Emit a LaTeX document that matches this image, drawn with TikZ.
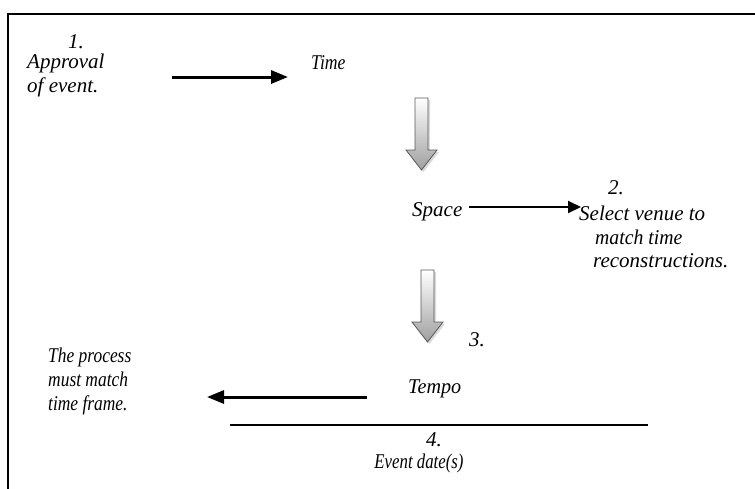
\documentclass[tikz,border=0pt]{standalone}
\usepackage{fontspec}
\setmainfont{Liberation Serif}
\usetikzlibrary{arrows.meta,shadows}
\tikzset{
  lbl/.style={font=\fontsize{21}{24}\selectfont\itshape, inner sep=0pt, align=left},
  narrow/.style={font=\fontsize{21}{24}\selectfont\itshape\addfontfeature{FakeStretch=#1}},
  flowarrow/.style={line width=3pt, -{Triangle[length=17pt,width=13pt]}},
  thinarrow/.style={line width=2pt, -{Triangle[length=13pt,width=12pt]}},
  blockarrow/.style={draw=gray!70!black, line width=0.8pt, top color=white, bottom color=gray!75,
    drop shadow={shadow xshift=2pt, shadow yshift=-2pt, fill=gray!35, opacity=0.8}},
}
\begin{document}
\begin{tikzpicture}[x=1pt,y=-1pt]
\useasboundingbox (0,0) rectangle (755,488);
% outer frame (only the top and left edges fall inside the page)
\draw[line width=2pt] (770,14) -- (8,14) -- (8,500);

% step 1
\node[lbl] (n1) at (76,42) {1.};
\node[lbl, anchor=west] (approval) at (27,75) {Approval\\of event.};
\node[lbl, narrow=0.84, anchor=west] (time) at (311,63) {Time};
\coordinate (a1s) at (172,77);
\coordinate (a1e) at (288,77);
\draw[flowarrow] (a1s) -- (a1e);

% block arrow Time -> Space
\path[blockarrow] (415,98) -- (428,98) -- (428,150) -- (437,150) -- (421.5,170) -- (406,150) -- (415,150) -- cycle;

% step 2
\node[lbl, anchor=west] (space) at (412,212) {Space};
\coordinate (a2s) at (469,207);
\coordinate (a2e) at (581,207);
\draw[thinarrow] (a2s) -- (a2e);
\node[lbl] (n2) at (616,188) {2.};
\node[lbl, anchor=west] (sel) at (579,213) {Select venue to};
\node[lbl, narrow=0.94, anchor=west] (mt) at (595,237) {match time};
\node[lbl, anchor=west] (rec) at (593,261) {reconstructions.};

% block arrow Space -> Tempo
\path[blockarrow] (421,270) -- (434,270) -- (434,322) -- (443,322) -- (427.5,342) -- (412,322) -- (421,322) -- cycle;

% step 3
\node[lbl] (n3) at (477,340) {3.};
\node[lbl, narrow=0.96, anchor=west] (tempo) at (408,389) {Tempo};
\node[lbl, narrow=0.83, anchor=west] (proc) at (48,381) {The process\\must match\\time frame.};
\coordinate (a3s) at (367,397);
\coordinate (a3e) at (207,397);
\draw[flowarrow] (a3s) -- (a3e);

% step 4
\coordinate (l1) at (230,425);
\coordinate (l2) at (648,425);
\draw[line width=1.6pt] (l1) -- (l2);
\node[lbl] (n4) at (434,440) {4.};
\node[lbl, narrow=0.8] (evd) at (419,463) {Event date(s)};
\end{tikzpicture}
\end{document}
